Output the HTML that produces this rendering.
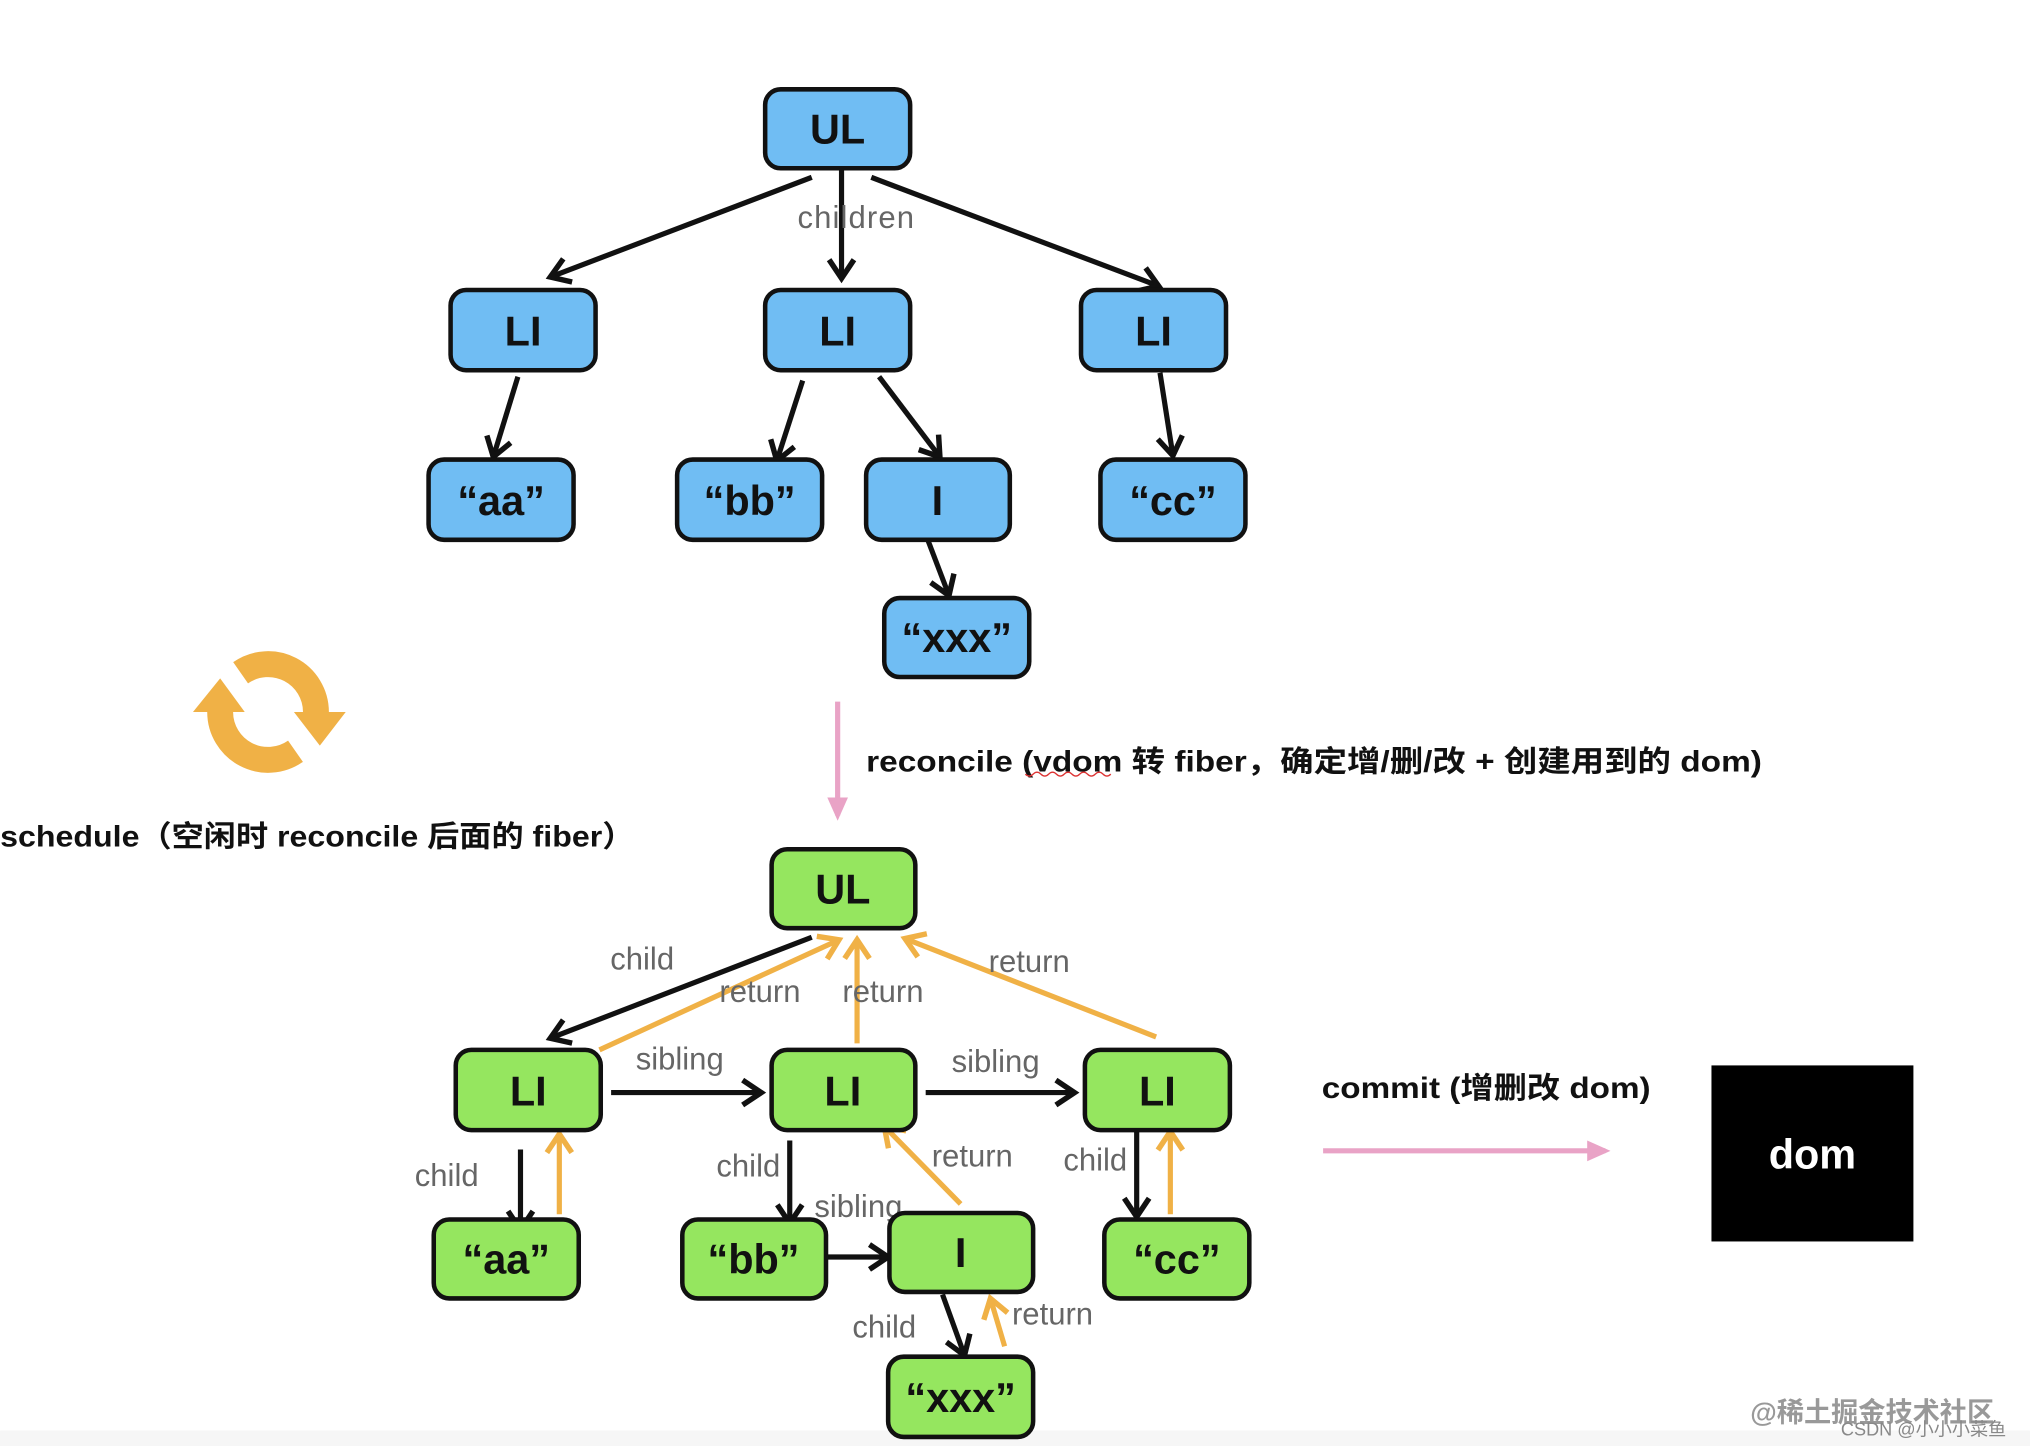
<!DOCTYPE html>
<html><head><meta charset="utf-8"><style>
html,body{margin:0;padding:0;background:#fff;}
svg{display:block;}
.n{font-family:"Liberation Sans","Noto Sans CJK SC",sans-serif;font-weight:bold;font-size:32px;fill:#111;text-anchor:middle;dominant-baseline:central;}
.e{font-family:"Liberation Sans",sans-serif;font-size:24px;fill:#666;text-anchor:middle;}
.t{font-family:"Liberation Sans","Noto Sans CJK SC",sans-serif;font-weight:bold;font-size:23px;fill:#111;}
.b rect{fill:#70bdf3;stroke:#111;stroke-width:3.5;}
.g rect{fill:#95e65f;stroke:#111;stroke-width:3.5;}
.k{stroke:#111;stroke-width:4;fill:none;marker-end:url(#ak);}
.o{stroke:#f0b146;stroke-width:4;fill:none;marker-end:url(#ao);}
</style></head><body>
<svg width="2030" height="1446" viewBox="0 0 1568 1117" xmlns="http://www.w3.org/2000/svg">
<defs>
<marker id="ak" viewBox="0 0 20 20" refX="16" refY="10" markerWidth="6" markerHeight="6" markerUnits="strokeWidth" orient="auto"><path d="M4,2 L16,10 L4,18" fill="none" stroke="#111" stroke-width="3.5"/></marker>
<marker id="ao" viewBox="0 0 20 20" refX="16" refY="10" markerWidth="6" markerHeight="6" markerUnits="strokeWidth" orient="auto"><path d="M4,2 L16,10 L4,18" fill="none" stroke="#f0b146" stroke-width="3.5"/></marker>
<marker id="ap" viewBox="0 0 20 20" refX="14" refY="10" markerWidth="5" markerHeight="5" markerUnits="strokeWidth" orient="auto"><path d="M0,2 L18,10 L0,18 Z" fill="#e9a3c6"/></marker>
</defs>

<rect x="0" y="1105" width="1568" height="12" fill="#f6f6f6"/>

<!-- top tree edges -->
<line class="k" x1="627" y1="137" x2="425" y2="214"/>
<line class="k" x1="650" y1="130" x2="650" y2="215"/>
<line class="k" x1="673" y1="137" x2="895" y2="221"/>
<line class="k" x1="400" y1="291" x2="381" y2="353"/>
<line class="k" x1="620" y1="294" x2="600" y2="356"/>
<line class="k" x1="679" y1="291" x2="726" y2="353"/>
<line class="k" x1="896" y1="288" x2="906" y2="352"/>
<line class="k" x1="717" y1="418" x2="733" y2="460"/>
<text class="e" x="661" y="176" textLength="90">children</text>

<g class="b">
<rect x="591" y="69" width="112" height="61" rx="12"/><text class="n" x="647" y="100">UL</text>
<rect x="348" y="224" width="112" height="62" rx="12"/><text class="n" x="404" y="256">LI</text>
<rect x="591" y="224" width="112" height="62" rx="12"/><text class="n" x="647" y="256">LI</text>
<rect x="835" y="224" width="112" height="62" rx="12"/><text class="n" x="891" y="256">LI</text>
<rect x="331" y="355" width="112" height="62" rx="12"/><text class="n" x="387" y="387">“aa”</text>
<rect x="523" y="355" width="112" height="62" rx="12"/><text class="n" x="579" y="387">“bb”</text>
<rect x="669" y="355" width="111" height="62" rx="12"/><text class="n" x="724" y="387">I</text>
<rect x="850" y="355" width="112" height="62" rx="12"/><text class="n" x="906" y="387">“cc”</text>
<rect x="683" y="462" width="112" height="61" rx="12"/><text class="n" x="739" y="493">“xxx”</text>
</g>

<!-- reconcile arrow -->
<line x1="647" y1="542" x2="647" y2="630" stroke="#e9a3c6" stroke-width="4" marker-end="url(#ap)"/>
<text class="t" x="669" y="596" textLength="692" lengthAdjust="spacingAndGlyphs">reconcile (vdom 转 fiber，确定增/删/改 + 创建用到的 dom)</text>
<path d="M792,598 q3,3 6,0 t6,0 t6,0 t6,0 t6,0 t6,0 t6,0 t6,0 t6,0 t6,0 t6,0" stroke="#d33" stroke-width="1" fill="none"/>

<!-- cycle icon -->
<g fill="none" stroke="#f0b146" stroke-width="20">
<path d="M185.8,519.7 A37,37 0 0 1 244,550"/>
<path d="M228.2,580.3 A37,37 0 0 1 170,550"/>
</g>
<polygon points="227,550 267,550 247,576" fill="#f0b146"/>
<polygon points="149,550 189,550 170,524" fill="#f0b146"/>
<text class="t" x="0" y="654" textLength="490" lengthAdjust="spacingAndGlyphs">schedule（空闲时 reconcile 后面的 fiber）</text>

<!-- bottom edges -->
<line class="k" x1="627" y1="724" x2="425" y2="802"/>
<line class="o" x1="463" y1="811" x2="648" y2="726"/>
<line class="o" x1="662" y1="806" x2="662" y2="726"/>
<line class="o" x1="893" y1="801" x2="699" y2="725"/>
<line class="k" x1="472" y1="844" x2="588" y2="844"/>
<line class="k" x1="715" y1="844" x2="830" y2="844"/>
<line class="k" x1="402" y1="888" x2="402" y2="950"/>
<line class="o" x1="432" y1="938" x2="432" y2="876"/>
<line class="k" x1="610" y1="881" x2="610" y2="945"/>
<line class="o" x1="742" y1="930" x2="683" y2="870"/>
<line class="k" x1="639" y1="971" x2="686" y2="971"/>
<line class="k" x1="878" y1="873" x2="878" y2="940"/>
<line class="o" x1="904" y1="938" x2="904" y2="874"/>
<line class="k" x1="728" y1="1000" x2="745" y2="1047"/>
<line class="o" x1="776" y1="1040" x2="765" y2="1003"/>

<text class="e" x="496" y="749">child</text>
<text class="e" x="587" y="774">return</text>
<text class="e" x="682" y="774">return</text>
<text class="e" x="795" y="751">return</text>
<text class="e" x="525" y="826">sibling</text>
<text class="e" x="769" y="828">sibling</text>
<text class="e" x="345" y="916">child</text>
<text class="e" x="578" y="909">child</text>
<text class="e" x="751" y="901">return</text>
<text class="e" x="663" y="940">sibling</text>
<text class="e" x="846" y="904">child</text>
<text class="e" x="683" y="1033">child</text>
<text class="e" x="813" y="1023">return</text>

<g class="g">
<rect x="596" y="656" width="111" height="61" rx="12"/><text class="n" x="651" y="687">UL</text>
<rect x="352" y="811" width="112" height="62" rx="12"/><text class="n" x="408" y="843">LI</text>
<rect x="596" y="811" width="111" height="62" rx="12"/><text class="n" x="651" y="843">LI</text>
<rect x="838" y="811" width="112" height="62" rx="12"/><text class="n" x="894" y="843">LI</text>
<rect x="335" y="942" width="112" height="61" rx="12"/><text class="n" x="391" y="973">“aa”</text>
<rect x="527" y="942" width="111" height="61" rx="12"/><text class="n" x="582" y="973">“bb”</text>
<rect x="687" y="937" width="111" height="61" rx="12"/><text class="n" x="742" y="968">I</text>
<rect x="853" y="942" width="112" height="61" rx="12"/><text class="n" x="909" y="973">“cc”</text>
<rect x="686" y="1048" width="112" height="62" rx="12"/><text class="n" x="742" y="1080">“xxx”</text>
</g>

<!-- commit -->
<text class="t" x="1021" y="848" textLength="254" lengthAdjust="spacingAndGlyphs">commit (增删改 dom)</text>
<line x1="1022" y1="889" x2="1240" y2="889" stroke="#e9a3c6" stroke-width="4" marker-end="url(#ap)"/>
<rect x="1322" y="823" width="156" height="136" fill="#000"/>
<text x="1400" y="892" font-family="Liberation Sans,sans-serif" font-weight="bold" font-size="32" fill="#fff" text-anchor="middle" dominant-baseline="central">dom</text>

<!-- watermark -->
<text x="1352" y="1098" font-family="Liberation Sans,Noto Sans CJK SC,sans-serif" font-weight="bold" font-size="21" fill="#999">@稀土掘金技术社区</text>
<text x="1422" y="1109" font-family="Liberation Sans,Noto Sans CJK SC,sans-serif" font-size="14" fill="#888">CSDN @小小小菜鱼</text>
</svg>
</body></html>
